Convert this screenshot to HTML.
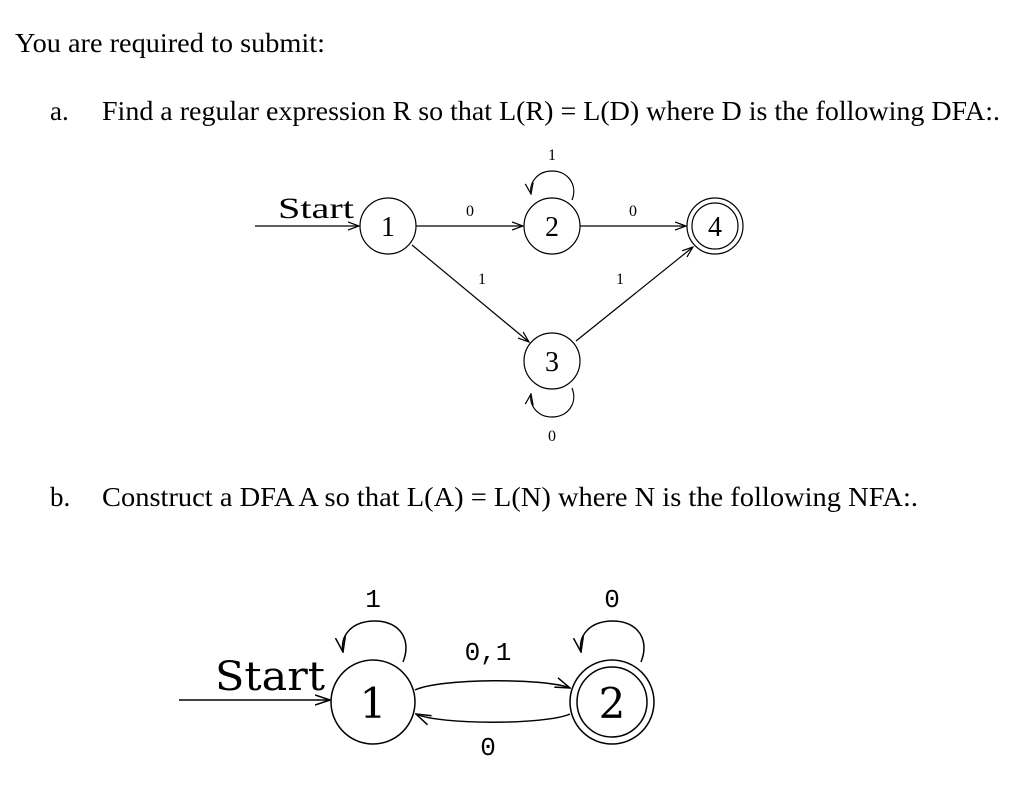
<!DOCTYPE html>
<html><head><meta charset="utf-8"><style>html,body{margin:0;padding:0;background:#fff}svg{display:block}</style></head>
<body>
<svg width="1024" height="801" viewBox="0 0 1024 801" xmlns="http://www.w3.org/2000/svg">
<defs>
<marker id="a" markerWidth="12" markerHeight="10" refX="11" refY="5" orient="auto" markerUnits="userSpaceOnUse"><path d="M0,1 L11,5 L0,9" fill="none" stroke="#000" stroke-width="1.2"/></marker>
<marker id="b" markerWidth="16" markerHeight="12" refX="15" refY="6" orient="auto" markerUnits="userSpaceOnUse"><path d="M0,1 L15,6 L0,11" fill="none" stroke="#000" stroke-width="1.5"/></marker>
</defs>
<g font-family="Liberation Serif, serif" fill="#000">
<text x="15" y="52" font-size="27" textLength="310" lengthAdjust="spacingAndGlyphs">You are required to submit:</text>
<text x="50" y="120" font-size="27">a.</text>
<text x="102" y="120" font-size="27" textLength="898" lengthAdjust="spacingAndGlyphs">Find a regular expression R so that L(R) = L(D) where D is the following DFA:.</text>
<text x="50" y="506" font-size="27">b.</text>
<text x="102" y="506" font-size="27" textLength="816" lengthAdjust="spacingAndGlyphs">Construct a DFA A so that L(A) = L(N) where N is the following NFA:.</text>
</g>
<!-- DFA -->
<g fill="none" stroke="#000" stroke-width="1.2">
<line x1="255" y1="226" x2="359" y2="226" marker-end="url(#a)"/>
<circle cx="388" cy="226" r="28"/>
<circle cx="552" cy="226" r="28"/>
<circle cx="552" cy="361" r="28"/>
<circle cx="715" cy="226" r="28"/>
<circle cx="715" cy="226" r="23"/>
<line x1="416" y1="226" x2="523" y2="226" marker-end="url(#a)"/>
<line x1="580" y1="226" x2="686" y2="226" marker-end="url(#a)"/>
<line x1="412" y1="245" x2="529" y2="342" marker-end="url(#a)"/>
<line x1="576" y1="341" x2="693" y2="247" marker-end="url(#a)"/>
<path d="M572,200 C578,185 568,171 552,171 C538,171 529,182 531,194" marker-end="url(#a)"/>
<path d="M572,388 C578,403 568,417 552,417 C538,417 529,406 531,394" marker-end="url(#a)"/>
</g>
<g font-family="Liberation Serif, serif" fill="#000" text-anchor="middle">
<text x="316" y="218" font-size="30" textLength="76" lengthAdjust="spacingAndGlyphs">Start</text>
<text x="388" y="236" font-size="28">1</text>
<text x="552" y="236" font-size="28">2</text>
<text x="552" y="371" font-size="28">3</text>
<text x="715" y="236" font-size="28">4</text>
<text x="470" y="216" font-size="16">0</text>
<text x="633" y="216" font-size="16">0</text>
<text x="482" y="284" font-size="16">1</text>
<text x="620" y="284" font-size="16">1</text>
<text x="552" y="160" font-size="16">1</text>
<text x="552" y="441" font-size="16">0</text>
</g>
<!-- NFA -->
<g fill="none" stroke="#000" stroke-width="1.5">
<line x1="179" y1="700" x2="330" y2="700" marker-end="url(#b)"/>
<circle cx="373" cy="702" r="42"/>
<circle cx="612" cy="702" r="42"/>
<circle cx="612" cy="702" r="35"/>
<path d="M403,662 C412,640 400,621 375,621 C352,621 340,635 343,652" marker-end="url(#b)"/>
<path d="M641,662 C650,640 638,621 613,621 C590,621 578,635 581,652" marker-end="url(#b)"/>
<path d="M415,690 C440,678 545,678 570,688" marker-end="url(#b)"/>
<path d="M570,714 C545,725 440,725 416,714" marker-end="url(#b)"/>
</g>
<g font-family="Liberation Mono, monospace" fill="#000" text-anchor="middle">
<text x="270" y="690" font-family="DejaVu Serif, serif" font-size="40" textLength="110" lengthAdjust="spacingAndGlyphs">Start</text>
<text x="373" y="718" font-family="DejaVu Serif, serif" font-size="42">1</text>
<text x="612" y="718" font-family="DejaVu Serif, serif" font-size="42">2</text>
<text x="373" y="607" font-size="26">1</text>
<text x="612" y="607" font-size="26">0</text>
<text x="488" y="660" font-size="26">0,1</text>
<text x="488" y="755" font-size="26">0</text>
</g>
</svg>
</body></html>
